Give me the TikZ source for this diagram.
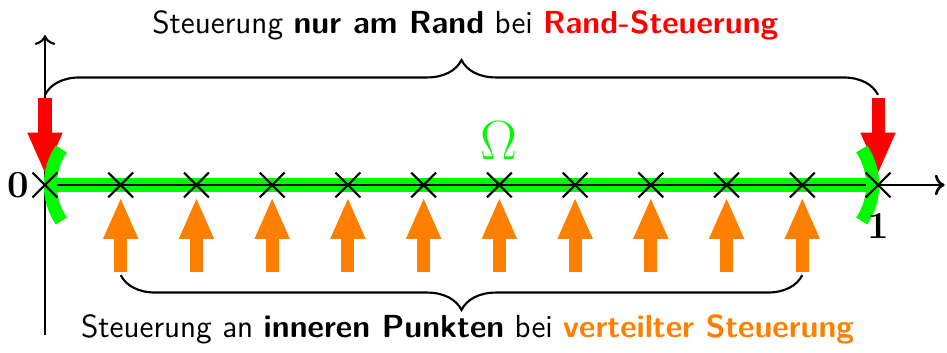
\documentclass[tikz,border=0pt]{standalone}
\definecolor{ctrlred}{RGB}{255, 0, 0}
\definecolor{domgreen}{RGB}{0, 250, 0}
\definecolor{ctrlorange}{RGB}{255, 128, 0}
\usepackage{tikz}
\usetikzlibrary{arrows.meta, positioning, calc, decorations.pathreplacing, shapes.misc}
\usepackage{amsmath, amssymb}

\begin{document}
\begin{tikzpicture}[
  axisline/.style={thick, -{To[length=1.3mm]}},
  ctrlarrow/.style={line width=4.9pt, -{Triangle[length=0.55cm, width=0.42cm]}},
  gridpt/.style={draw, cross out, thick, minimum size=0.3cm, inner sep=0pt},
  bracket/.style={thick, decorate, decoration={brace, amplitude=0.46cm}},
  bdry/.style={domgreen, line width=4.9pt}
]
  \useasboundingbox (-0.594, -2.218) rectangle (11.911, 2.443);

  % Grid points on the interval
  \foreach \i in {0,...,11} \coordinate (p\i) at (\i, 0);

  % Axes
  \coordinate (ybot) at (0, -1.98);
  \coordinate (ytop) at (0, 1.98);
  \coordinate (xend) at (11.88, 0);
  \draw[axisline] (ybot) -- (ytop);

  % Domain
  \draw[bdry] (p0) -- (p11);
  \draw[axisline, line width=1pt] (p0) -- (xend);

  % Boundary control
  \coordinate (r0) at (0, 1.15);
  \coordinate (r11) at (11, 1.15);
  \draw[ctrlarrow, ctrlred, shorten >=0.14cm] (r0) -- (p0);
  \draw[ctrlarrow, ctrlred, shorten >=0.14cm] (r11) -- (p11);
  \draw[bdry] ($(p0)+(0.92,0)$) ++(146:0.85) arc[start angle=146, end angle=214, radius=0.85];
  \draw[bdry] ($(p11)+(-0.92,0)$) ++(34:0.85) arc[start angle=34, end angle=-34, radius=0.85];

  % Crosses
  \foreach \i in {0,...,11} \node[gridpt] (x\i) at (p\i) {};

  % Distributed control
  \foreach \i in {1,...,10} {
    \coordinate (b\i) at (\i, -1.15);
    \draw[ctrlarrow, ctrlorange, shorten >=0.16cm] (b\i) -- (p\i);
  }

  % Braces
  \coordinate (tl) at (0, 1.19);
  \coordinate (tr) at (11, 1.19);
  \coordinate (bl) at (1, -1.19);
  \coordinate (br) at (10, -1.19);
  \draw[bracket] (tl) -- (tr);
  \draw[bracket] (br) -- (bl);

  % Labels
  \node[font=\Large\bfseries, anchor=east, xshift=-0.08cm] (zero) at (p0) {0};
  \node[font=\Large\bfseries, below=0.25cm of p11] (one) {1};
  \node[font=\huge, text=domgreen] (omega) at (6, 0.59) {$\Omega$};
  \node[font=\large\sffamily] (toptext) at (5.55, 2.11) {Steuerung \textbf{nur am Rand} bei \textcolor{ctrlred}{\textbf{Rand-Steuerung}}};
  \node[font=\large\sffamily] (bottext) at (5.58, -1.91) {Steuerung an \textbf{inneren Punkten} bei \textcolor{ctrlorange}{\textbf{verteilter Steuerung}}};
\end{tikzpicture}
\end{document}
